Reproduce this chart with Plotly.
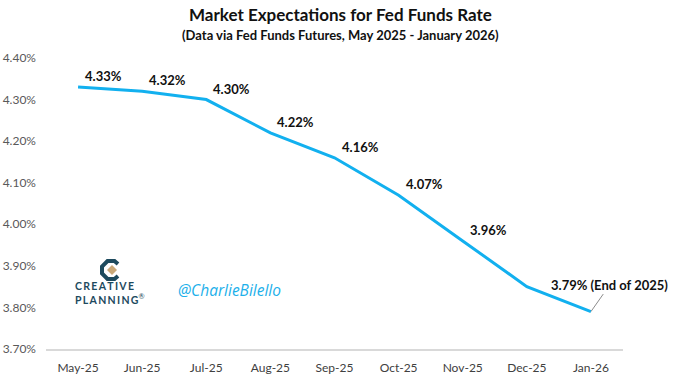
import plotly.graph_objects as go

months = ["May-25", "Jun-25", "Jul-25", "Aug-25", "Sep-25", "Oct-25", "Nov-25", "Dec-25", "Jan-26"]
rates = [4.33, 4.32, 4.30, 4.22, 4.16, 4.07, 3.96, 3.85, 3.79]
labels = ["4.33%", "4.32%", "4.30%", "4.22%", "4.16%", "4.07%", "3.96%", "", "3.79% (End of 2025)"]
y_ticks = [3.70, 3.80, 3.90, 4.00, 4.10, 4.20, 4.30, 4.40]
y_tick_text = ["3.70%", "3.80%", "3.90%", "4.00%", "4.10%", "4.20%", "4.30%", "4.40%"]

FONT = "Lato"
fig = go.Figure()
fig.add_trace(go.Scatter(x=months, y=rates, mode="lines",
                         line=dict(color="#12b0ef", width=3), hoverinfo="skip"))

annotations = []
for m, r, t in zip(months[:-1], rates[:-1], labels[:-1]):
    if not t:
        continue
    annotations.append(dict(x=m, y=r, text="<b>%s</b>" % t, showarrow=False,
                            xanchor="left", yanchor="bottom", xshift=5, yshift=1,
                            font=dict(family=FONT, size=13, color="#111111")))
annotations.append(dict(x=months[-1], y=rates[-1], text="<b>%s</b>" % labels[-1],
                        showarrow=True, arrowhead=0, arrowwidth=1, arrowcolor="#8c8c8c",
                        ax=19, ay=-27, standoff=0,
                        font=dict(family=FONT, size=13, color="#111111")))
# title
annotations.append(dict(xref="paper", yref="paper", x=(340 - 46) / 577, y=1, yshift=44,
                        text="<b>Market Expectations for Fed Funds Rate</b>", showarrow=False,
                        xanchor="center", yanchor="middle",
                        font=dict(family=FONT, size=17, color="#111111")))
annotations.append(dict(xref="paper", yref="paper", x=(340 - 46) / 577, y=1, yshift=23,
                        text="<b>(Data via Fed Funds Futures, May 2025 - January 2026)</b>", showarrow=False,
                        xanchor="center", yanchor="middle",
                        font=dict(family=FONT, size=13, color="#111111")))
# logo text
sp = "\u2009"
annotations.append(dict(xref="paper", yref="paper", x=(110 - 46) / 577, y=(349 - 293) / 291,
                        text="<b>" + sp.join("CREATIVE") + "</b><br><b>" + sp.join("PLANNING") + "</b><sup>®</sup>",
                        showarrow=False, xanchor="center", yanchor="middle", align="left",
                        font=dict(family=FONT, size=10.5, color="#1d4a5e")))
annotations.append(dict(xref="paper", yref="paper", x=(229 - 46) / 577, y=(349 - 290) / 291,
                        text="<i>@CharlieBilello</i>", showarrow=False,
                        xanchor="center", yanchor="middle",
                        font=dict(family="Open Sans", size=15.5, color="#1cb0ea")))

ix, iy = (111 - 46) / 577, (349 - 270) / 291
shapes = [
    dict(type="path", xref="paper", yref="paper", xsizemode="pixel", ysizemode="pixel",
         xanchor=ix, yanchor=iy,
         path="M 7,6 L 3.5,9 L -3.5,9 L -9,3.5 L -9,-3.5 L -3.5,-9 L 3.5,-9 L 7,-6",
         line=dict(color="#1d4a5e", width=4)),
    dict(type="path", xref="paper", yref="paper", xsizemode="pixel", ysizemode="pixel",
         xanchor=ix, yanchor=iy,
         path="M 1,5 L 6,0 L 1,-5 L -4,0 Z",
         fillcolor="#c9a878", line=dict(width=0)),
]

fig.update_layout(
    width=680, height=382,
    margin=dict(l=46, r=57, t=58, b=33),
    paper_bgcolor="white", plot_bgcolor="white",
    showlegend=False,
    font=dict(family=FONT, size=12, color="#404040"),
    annotations=annotations, shapes=shapes,
    xaxis=dict(type="category", range=[-0.5, 8.5], showgrid=False, showline=True,
               linecolor="#d9d9d9", linewidth=2, ticks="", tickfont=dict(size=12, color="#404040"),
               zeroline=False, ticklabelstandoff=7, automargin=False),
    yaxis=dict(range=[3.70, 4.40], tickvals=y_ticks, ticktext=y_tick_text, showgrid=False,
               showline=False, zeroline=False, ticks="", tickfont=dict(size=12, color="#595959"),
               ticklabelstandoff=9, automargin=False),
)
fig.write_html("out.html", config={"displayModeBar": False},
               post_script="document.body.style.margin='0';document.body.style.overflow='hidden';")
